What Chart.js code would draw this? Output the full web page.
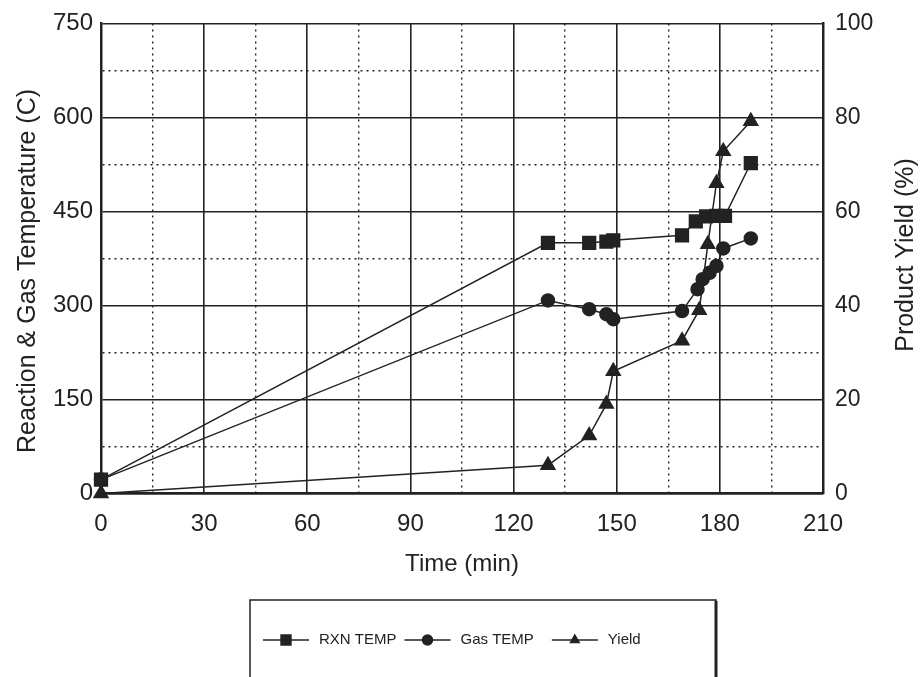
<!DOCTYPE html>
<html>
<head>
<meta charset="utf-8">
<script src="https://cdn.jsdelivr.net/npm/chart.js@4.4.0/dist/chart.umd.min.js"></script>
<style>
  html, body { margin: 0; padding: 0; background: #fff; }
  #wrap { width: 921px; height: 677px; }
</style>
</head>
<body>
<div id="wrap"><canvas id="chart_yield" width="921" height="677"></canvas></div>
<script>
// values
const rxnTimes = [0, 130, 142, 147, 149, 169, 173, 176, 179, 181.5, 189];
const rxnTemp = [22, 400, 400, 402, 404, 412, 434, 442, 443, 443, 527];

const gasTimes = [0, 130, 142, 147, 149, 169, 173.5, 175, 177, 179, 181, 189];
const gasTemp = [22, 308, 294, 286, 278, 291, 326, 342, 352, 363, 391, 407];

const yieldTimes = [0, 130, 142, 147, 149, 169, 174, 176.5, 179, 181, 189];
const yieldPct = [0, 6, 12.3, 19, 26, 32.5, 39, 53, 66, 72.8, 79.2];

const seriesLabels = ['RXN TEMP', 'Gas TEMP', 'Yield'];

const FONT = "'Liberation Sans', Arial, sans-serif";
const INK = '#222';

function pairs(xs, ys) {
    return xs.map((x, i) => ({ x: x, y: ys[i] }));
}

// dotted minor grid lines, solid major ones
function gridDash(major) {
    return function (ctx) {
        if (!ctx.tick) return [];
        return ctx.tick.value % major === 0 ? [] : [2, 4];
    };
}
function gridWidth(major) {
    return function (ctx) {
        if (!ctx.tick) return 1.6;
        return ctx.tick.value % major === 0 ? 1.6 : 1.4;
    };
}

// both axis titles read bottom to top, plus the boxed legend under the plot
const extras = {
    id: 'extras',
    afterDraw(chart) {
        const c = chart.ctx;
        c.save();
        c.fillStyle = INK;
        c.font = '25px ' + FONT;
        c.textAlign = 'center';
        c.textBaseline = 'middle';
        [['Reaction & Gas Temperature (C)', 28, 271], ['Product Yield (%)', 906, 255]].forEach(([t, x, y]) => {
            c.save();
            c.translate(x, y);
            c.rotate(-Math.PI / 2);
            c.fillText(t, 0, 0);
            c.restore();
        });

        c.strokeStyle = INK;
        c.lineWidth = 1.5;
        c.strokeRect(250, 600, 466, 90);
        c.lineWidth = 3;
        c.beginPath();
        c.moveTo(716, 601);
        c.lineTo(716, 677);
        c.stroke();

        c.font = '15px ' + FONT;
        c.textAlign = 'left';
        let x = 263;
        const y = 640;
        const gaps = [8, 18, 0];
        chart.data.datasets.forEach((ds, i) => {
            c.strokeStyle = INK;
            c.lineWidth = 1.5;
            c.beginPath();
            c.moveTo(x, y);
            c.lineTo(x + 46, y);
            c.stroke();
            Chart.helpers.drawPoint(c, {
                pointStyle: ds.pointStyle,
                radius: ds.pointStyle === 'rect' ? 7 : 5,
                borderWidth: 1
            }, x + 23, y);
            c.fillStyle = INK;
            c.fillText(ds.label, x + 56, y);
            x += 56 + c.measureText(ds.label).width + gaps[i];
        });
        c.restore();
    }
};

const ctxYield = document.getElementById('chart_yield');
const yieldChart = new Chart(ctxYield, {
    type: 'line',
    data: {
        datasets: [{
            label: seriesLabels[0],
            data: pairs(rxnTimes, rxnTemp),
            yAxisID: 'y',
            pointStyle: 'rect',
            pointRadius: 9,
            borderColor: INK,
            backgroundColor: INK,
            borderWidth: 1.5,
            clip: false
        }, {
            label: seriesLabels[1],
            data: pairs(gasTimes, gasTemp),
            yAxisID: 'y',
            pointStyle: 'circle',
            pointRadius: 6.5,
            borderColor: INK,
            backgroundColor: INK,
            borderWidth: 1.5,
            clip: false
        }, {
            label: seriesLabels[2],
            data: pairs(yieldTimes, yieldPct),
            yAxisID: 'y1',
            pointStyle: 'triangle',
            pointRadius: 8,
            borderColor: INK,
            backgroundColor: INK,
            borderWidth: 1.5,
            clip: false
        }]
    },
    options: {
        responsive: false,
        animation: false,
        layout: { padding: { top: 19, bottom: 94, left: 0, right: 0 } },
        plugins: {
            legend: { display: false },
            tooltip: { enabled: false }
        },
        elements: { line: { tension: 0 }, point: { borderWidth: 1 } },
        scales: {
            x: {
                type: 'linear',
                min: 0,
                max: 210,
                ticks: {
                    stepSize: 15,
                    padding: 17,
                    color: INK,
                    font: { family: FONT, size: 24 },
                    callback: (v) => (v % 30 === 0 ? v : '')
                },
                grid: { color: INK, lineWidth: gridWidth(30), drawTicks: false },
                border: { color: INK, width: 2.5, dash: gridDash(30) },
                title: {
                    display: true,
                    text: 'Time (min)',
                    color: INK,
                    font: { family: FONT, size: 24 },
                    padding: { top: -6, bottom: 4 }
                }
            },
            y: {
                position: 'left',
                min: 0,
                max: 750,
                afterFit: (scale) => { scale.width = 101; },
                ticks: {
                    stepSize: 75,
                    padding: 8,
                    color: INK,
                    font: { family: FONT, size: 24, lineHeight: 1 },
                    callback: (v) => (v % 150 === 0 ? v : '')
                },
                grid: { color: INK, lineWidth: gridWidth(150), drawTicks: false },
                border: { color: INK, width: 2.5, dash: gridDash(150) }
            },
            y1: {
                position: 'right',
                min: 0,
                max: 100,
                afterFit: (scale) => { scale.width = 98; },
                ticks: {
                    stepSize: 20,
                    padding: 12,
                    color: INK,
                    font: { family: FONT, size: 23, lineHeight: 1 }
                },
                grid: { drawOnChartArea: false, drawTicks: false },
                border: { color: INK, width: 2.5 }
            }
        }
    },
    plugins: [extras]
});
</script>
</body>
</html>
